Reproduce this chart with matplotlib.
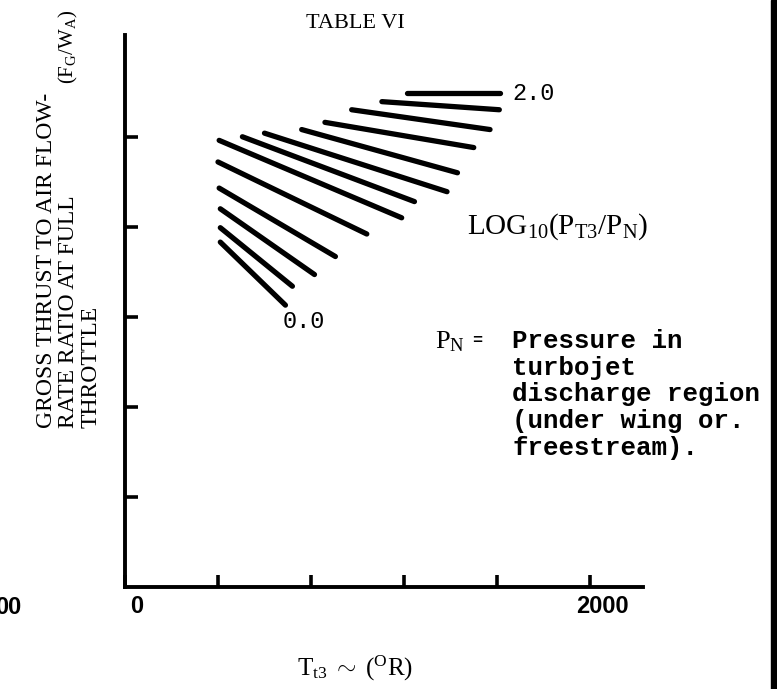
import matplotlib.pyplot as plt
from matplotlib.patches import Rectangle
from matplotlib.transforms import ScaledTranslation

plt.rcParams["mathtext.fontset"] = "custom"
plt.rcParams["mathtext.rm"] = "Liberation Serif"
plt.rcParams["mathtext.it"] = "Liberation Serif:italic"
plt.rcParams["mathtext.bf"] = "Liberation Serif:bold"

SERIF = ["Liberation Serif", "DejaVu Serif"]
MONO = ["Liberation Mono", "DejaVu Sans Mono"]
SANS = ["Liberation Sans", "DejaVu Sans"]

# lines of constant LOG10(PT3/PN), from 0.0 (bottom) to 2.0 (top)
# Tt3 (deg R) and FG/WA (one tick = one unit) at both ends of each line
t_start = [410, 410, 410, 405, 400, 405, 505, 600, 760, 860, 975, 1105, 1215]
t_end = [690, 720, 815, 905, 1040, 1190, 1245, 1385, 1430, 1500, 1570, 1610, 1615]
fg_start = [3.83, 3.99, 4.20, 4.43, 4.72, 4.96, 5.00, 5.04, 5.08, 5.16, 5.30, 5.39, 5.49]
fg_end = [3.13, 3.34, 3.47, 3.67, 3.92, 4.10, 4.28, 4.39, 4.60, 4.88, 5.08, 5.30, 5.49]

x_ticks = [0, 400, 800, 1200, 1600, 2000]
x_labels = ["0", "", "", "", "", "2000"]
y_ticks = [1, 2, 3, 4, 5]

note_lines = ["Pressure in", "turbojet", "discharge region",
              "(under wing or.", "freestream)."]

W, H = 777, 689
fig = plt.figure(figsize=(W / 100, H / 100), dpi=100)


def px(x, y):
    # pixel position on the page -> figure fraction
    return x / W, 1 - y / H


ax = fig.add_axes([125 / W, 1 - 587 / H, (643 - 125) / W, (587 - 35) / H])
ax.set_xlim(0, 2228)
ax.set_ylim(0, 6.13)
for s in ["top", "right"]:
    ax.spines[s].set_visible(False)
for s in ["left", "bottom"]:
    ax.spines[s].set_linewidth(2.8)

ax.set_xticks(x_ticks, labels=x_labels)
ax.set_yticks(y_ticks, labels=[])
ax.tick_params(axis="both", direction="in", length=9, width=2.6, color="black")
ax.tick_params(axis="x", pad=6, labelsize=17)
offset = ScaledTranslation(12 / 100, 0, fig.dpi_scale_trans)
for lab in ax.get_xticklabels():
    lab.set_transform(lab.get_transform() + offset)
    lab.set_fontfamily(SANS)
    lab.set_fontweight("bold")

for ts, te, fs, fe in zip(t_start, t_end, fg_start, fg_end):
    ax.plot([ts, te], [fs, fe], color="black", lw=3.8, solid_capstyle="round")

# curve labels
fig.text(*px(304, 322), "0.0", family=MONO, fontsize=17, ha="center", va="center")
fig.text(*px(512, 93), "2.0", family=MONO, fontsize=17, ha="left", va="center")

fig.text(*px(355, 24), "TABLE VI", family=SERIF, fontsize=16, ha="center", va="center")

fig.text(*px(467, 234), r"$\mathrm{LOG}_{10}(\mathrm{P}_{\mathrm{T}3}/\mathrm{P}_{\mathrm{N}})$",
         fontsize=21, ha="left", va="baseline")

# P_N note
fig.text(*px(435, 348), r"$\mathrm{P}_{\mathrm{N}}$", fontsize=19, ha="left", va="baseline")
fig.text(*px(472, 345), "=", family=MONO, fontsize=12, weight="bold", ha="left", va="baseline")
for i, line in enumerate(note_lines):
    fig.text(*px(512, 348 + 26.7 * i), line, family=MONO, fontsize=18.5,
             weight="bold", ha="left", va="baseline")

# y axis title, rotated
ylab = dict(family=SERIF, fontsize=17, rotation=90, rotation_mode="anchor",
            ha="left", va="center")
fig.text(*px(47, 428), "GROSS THRUST TO AIR FLOW-", **ylab)
fig.text(*px(69, 428), "RATE RATIO AT FULL", **ylab)
fig.text(*px(91, 428), "THROTTLE", **ylab)
fig.text(*px(68, 84), r"$(\mathrm{F}_{\mathrm{G}}/\mathrm{W}_{\mathrm{A}})$", fontsize=15,
         rotation=90, rotation_mode="anchor", ha="left", va="center")

# x axis title
fig.text(*px(355, 668), r"$\mathrm{T}_{\mathrm{t}3}\ \sim\ (^{\mathrm{O}}\mathrm{R})$",
         fontsize=18, ha="center", va="center")

# clipped label from the neighbouring chart
fig.text(*px(21, 607), "00", family=SANS, weight="bold", fontsize=17, ha="right", va="center")

# page edge
fig.patches.append(Rectangle(px(771, 689), 6 / W, 1, transform=fig.transFigure,
                             color="black"))

fig.savefig("out.png", dpi=100)
